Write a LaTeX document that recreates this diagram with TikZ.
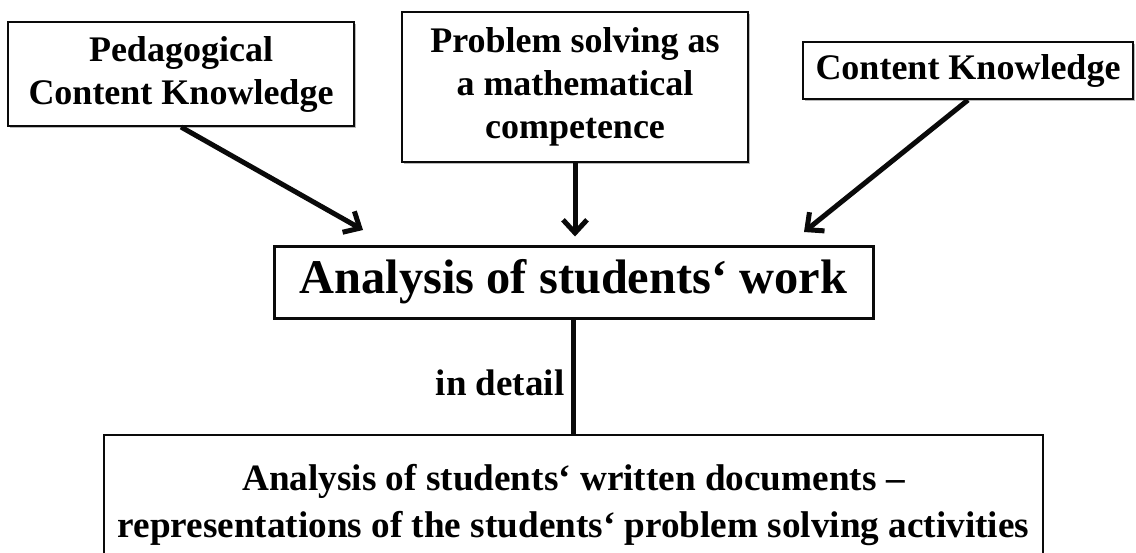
\documentclass[tikz,border=0pt]{standalone}
\usepackage{fontspec}
\setmainfont{Liberation Serif}
\usepackage{tikz}
\usetikzlibrary{
  arrows.meta,
  positioning,
  shadows
}
\definecolor{boxline}{RGB}{10,10,10}
\definecolor{boxshade}{RGB}{140,140,140}
\tikzset{
  sourceBox/.style={
    rectangle,
    draw=boxline,
    fill=white,
    line width=1pt,
    inner sep=0pt,
    align=center,
    font=\bfseries\fontsize{18}{21.5}\selectfont,
    drop shadow={shadow xshift=1.2pt, shadow yshift=-1.2pt,
      fill=boxshade, opacity=0.6}
  },
  mainBox/.style={
    sourceBox,
    line width=1.5pt,
    font=\bfseries\fontsize{24.2}{28}\selectfont
  },
  detailBox/.style={
    rectangle,
    draw=boxline,
    fill=white,
    line width=0.6pt,
    inner sep=0pt,
    align=center,
    font=\bfseries\fontsize{18.6}{23.5}\selectfont
  },
  feedArrow/.style={
    -{Straight Barb[length=6.5pt, width=12pt]},
    line width=2.5pt,
    draw=boxline
  },
  detailLink/.style={
    line width=2.5pt,
    draw=boxline
  }
}

\begin{document}
\begin{tikzpicture}[x=0.5pt, y=-0.5pt]
  \useasboundingbox (0,0) rectangle (1136,552);
  \clip (0,0) rectangle (1136,552);

  % three sources on top
  \node[sourceBox, minimum width=173pt, minimum height=52pt] (pck) at (181,74)
    {Pedagogical\\Content Knowledge};
  \node[sourceBox, minimum width=173pt, minimum height=75pt] (psc) at (575,87)
    {Problem solving as\\a mathematical\\competence};
  \node[sourceBox, minimum width=165pt, minimum height=28.5pt] (ck) at (968,70.5)
    {Content Knowledge};

  % central analysis
  \node[mainBox, minimum width=299.5pt, minimum height=36pt] (work) at (573.5,282)
    {Analysis of students‘ work};

  % detailed analysis below
  \node[detailBox, minimum width=469.5pt, minimum height=70pt] (docs) at (573.5,505)
    {Analysis of students‘ written documents –\\
     representations of the students‘ problem solving activities};

  \coordinate (tipL) at (363,230);
  \coordinate (tipR) at (804,232);

  \draw[feedArrow] (pck.south) -- (tipL);
  \draw[feedArrow, shorten >=4pt] (psc) -- (psc |- work.north);
  \draw[feedArrow] (ck.south) -- (tipR);

  \draw[detailLink] (work.south) -- (work.south |- docs.north)
    node[pos=0.55, left=0pt, font=\bfseries\fontsize{18.5}{20}\selectfont] {in detail};
\end{tikzpicture}
\end{document}
